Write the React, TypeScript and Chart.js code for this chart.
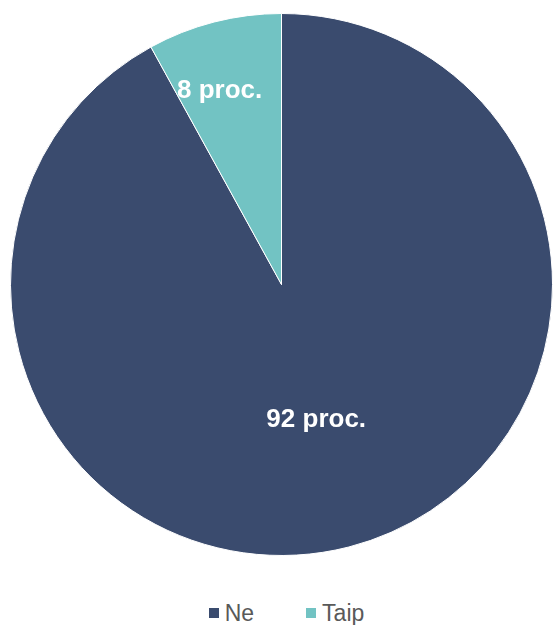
import React, { useEffect, useRef } from "react";
import { Chart, registerables } from "chart.js";

Chart.register(...registerables);

const categories = ["Ne", "Taip"];
const values = [92, 8];
const valueLabels = ["92 proc.", "8 proc."];
const colors = ["#3A4B6E", "#72C3C3"];

const labelPlugin = {
  id: "sliceLabels",
  afterDatasetsDraw(chart: any, _args: any, opts: any) {
    const ctx = chart.ctx;
    const meta = chart.getDatasetMeta(0);
    ctx.save();
    ctx.fillStyle = "#ffffff";
    ctx.font = "bold 26px Arial, 'Liberation Sans', sans-serif";
    ctx.textAlign = "center";
    ctx.textBaseline = "middle";
    meta.data.forEach((arc: any, i: number) => {
      const p = arc.getProps(["x", "y", "startAngle", "endAngle", "outerRadius"], true);
      const mid = (p.startAngle + p.endAngle) / 2;
      const f = opts.factors[i];
      const off = opts.offsets[i];
      const x = p.x + Math.cos(mid) * p.outerRadius * f + off[0];
      const y = p.y + Math.sin(mid) * p.outerRadius * f + off[1];
      ctx.fillText(valueLabels[i], x, y);
    });
    ctx.restore();
  },
};

export default function App() {
  const ref = useRef<HTMLCanvasElement>(null);
  useEffect(() => {
    if (!ref.current) return;
    const chart = new Chart(ref.current, {
      type: "pie",
      data: {
        labels: categories,
        datasets: [
          {
            data: values,
            backgroundColor: colors,
            borderColor: "#ffffff",
            borderWidth: 1,
          },
        ],
      },
      options: {
        responsive: false,
        animation: false,
        layout: { padding: { left: 10, right: 0, top: 11, bottom: 12 } },
        plugins: {
          legend: { display: false },
          tooltip: { enabled: false },
          sliceLabels: { factors: [0.515, 0.74], offsets: [[0, 0], [-12, 1]] },
        } as any,
      },
      plugins: [labelPlugin],
    });
    return () => chart.destroy();
  }, []);

  return (
    <div style={{ position: "absolute", left: 0, top: 0, width: 553, height: 625, background: "#fff" }}>
      <canvas ref={ref} width={553} height={570} style={{ display: "block" }} />
      <div
        style={{
          position: "absolute",
          left: 0,
          top: 600,
          width: 553,
          display: "flex",
          justifyContent: "center",
          alignItems: "center",
          fontFamily: "Arial, 'Liberation Sans', sans-serif",
          fontSize: 23,
          color: "#595959",
          lineHeight: "26px",
        }}
      >
        {categories.map((c, i) => (
          <div key={c} style={{ display: "flex", alignItems: "center", marginLeft: i === 0 ? 0 : 52, transform: "translateX(10px)" }}>
            <span style={{ display: "inline-block", width: 10, height: 10, background: colors[i], marginRight: 6 }} />
            <span>{c}</span>
          </div>
        ))}
      </div>
    </div>
  );
}
